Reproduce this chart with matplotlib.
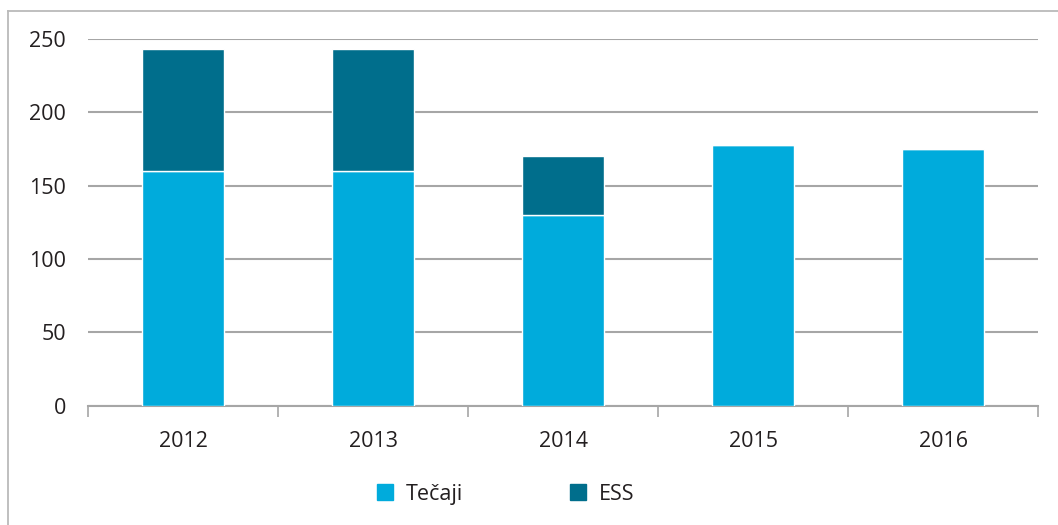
import matplotlib.pyplot as plt
import numpy as np
from matplotlib.lines import Line2D

plt.rcParams['font.family'] = ['Open Sans', 'DejaVu Sans']

years = ['2012', '2013', '2014', '2015', '2016']
tecaji = [160, 160, 130, 178, 175]
ess = [83, 83, 40, 0, 0]

light_blue = '#00abdc'
dark_blue = '#006e8c'
grid_grey = '#a6a6a6'
text_col = '#231f20'

fig = plt.figure(figsize=(10.58, 5.25), dpi=100)
ax = fig.add_axes([0.0835, 0.2276, 0.8979, 0.6981])

x = np.arange(len(years))
ax.bar(x, tecaji, width=0.43, color=light_blue, edgecolor='white', linewidth=1, zorder=3)
ax.bar(x, ess, width=0.43, bottom=tecaji, color=dark_blue, edgecolor='white', linewidth=1, zorder=3)

ax.set_xlim(-0.5, len(years) - 0.5)
ax.set_ylim(0, 250)
ax.set_yticks(range(0, 251, 50))
ax.yaxis.grid(True, color=grid_grey, linewidth=1.5, zorder=0)
ax.set_axisbelow(True)

# category labels centred on bars, ticks sit on the category boundaries
ax.set_xticks(x)
ax.set_xticklabels(years)
ax.set_xticks(np.arange(-0.5, len(years)), minor=True)
ax.tick_params(axis='x', which='major', length=0, pad=18, labelsize=15.5, labelcolor=text_col)
ax.tick_params(axis='x', which='minor', length=8, width=1.2, color=grid_grey, direction='out')
ax.tick_params(axis='y', length=0, pad=16, labelsize=15.5, labelcolor=text_col)

for s in ['top', 'right', 'left']:
    ax.spines[s].set_visible(False)
ax.spines['bottom'].set_color(grid_grey)
ax.spines['bottom'].set_linewidth(1.5)

# outer frame (top and left edges)
fig.add_artist(Line2D([8 / 1058, 1], [1 - 10.5 / 525, 1 - 10.5 / 525], transform=fig.transFigure, color='#bababa', linewidth=1.3))
fig.add_artist(Line2D([8 / 1058, 8 / 1058], [0, 1 - 10.5 / 525], transform=fig.transFigure, color='#bababa', linewidth=1.3))

handles = [
    Line2D([], [], marker='s', linestyle='none', markersize=11, color=light_blue),
    Line2D([], [], marker='s', linestyle='none', markersize=11, color=dark_blue),
]
fig.legend(handles, ['Tečaji', 'ESS'], ncol=2, loc='center left', bbox_to_anchor=(0.3355, 0.059),
           frameon=False, fontsize=15.5, handletextpad=0.45, columnspacing=4.85, handlelength=1.0,
           labelcolor=text_col)

fig.savefig('out.png', dpi=100)
